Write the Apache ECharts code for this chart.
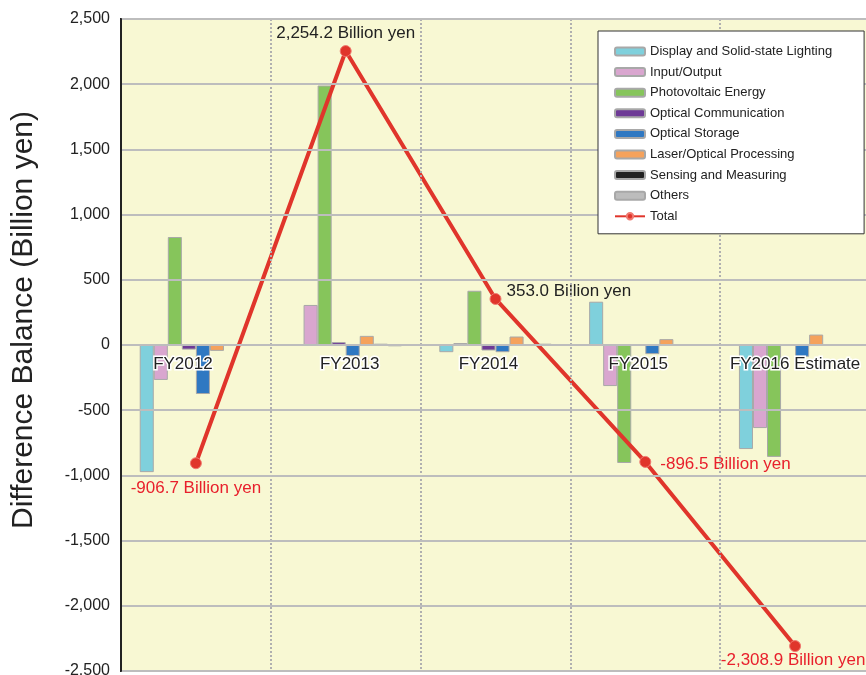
<!DOCTYPE html>
<html>
<head>
<meta charset="utf-8">
<script src="https://cdn.jsdelivr.net/npm/echarts@6/dist/echarts.min.js"></script>
<style>
  html, body { margin: 0; padding: 0; background: #fff; }
  #chart { width: 866px; height: 675px; }
</style>
</head>
<body>
<div id="chart"></div>
<script>
const categories = ["FY2012", "FY2013", "FY2014", "FY2015", "FY2016 Estimate"];
const seriesNames = [
  "Display and Solid-state Lighting",
  "Input/Output",
  "Photovoltaic Energy",
  "Optical Communication",
  "Optical Storage",
  "Laser/Optical Processing",
  "Sensing and Measuring",
  "Others"
];
// values in billion yen
const displayLighting = [-975, -5, -55, 332, -798];
const inputOutput = [-268, 307, 15, -315, -637];
const photovoltaic = [828, 1990, 416, -905, -858];
const opticalComm = [-35, 22, -42, 5, 0];
const opticalStorage = [-376, -85, -55, -70, -90];
const laserProcessing = [-45, 70, 65, 45, 80];
const sensingMeasuring = [-5, 10, 5, 5, 5];
const others = [-5, -10, 10, 5, 5];
const totals = [-906.7, 2254.2, 353.0, -896.5, -2308.9];
const yTicks = [-2500, -2000, -1500, -1000, -500, 0, 500, 1000, 1500, 2000, 2500];

const barValues = [displayLighting, inputOutput, photovoltaic, opticalComm,
  opticalStorage, laserProcessing, sensingMeasuring, others];
const barColors = ["#7fd0dc", "#d9a6cf", "#86c55b", "#6e3a96",
  "#2f78c2", "#f5a25c", "#222222", "#bcbcbc"];

// label placement for the total points
const totalLabelPos = ["bottom", "top", "right", "right", "bottom"];
const totalLabelColor = ["#e8202c", "#222", "#222", "#e8202c", "#e8202c"];
const totalLabelOffset = [[0, 2], [0, 6], [-4, -8], [0, 2], [-2, -9]];
// category labels sit a little left of centre in the original
const catLabelShift = [13, -4, 7, 7, 0];

const font = "'Liberation Sans', Arial, Helvetica, sans-serif";
const chart = echarts.init(document.getElementById("chart"));

const fmt = (v) => v.toLocaleString("en-US", { minimumFractionDigits: 1, maximumFractionDigits: 1 }) + " Billion yen";

const series = seriesNames.map((name, i) => ({
  name: name,
  type: "bar",
  data: barValues[i],
  barGap: 0,
  barCategoryGap: "25%",
  itemStyle: { color: barColors[i], borderColor: "#a8a8a8", borderWidth: 1 }
}));

series.push({
  name: "Total",
  type: "line",
  z: 5,
  data: totals.map((v, i) => ({
    value: v,
    label: {
      show: true,
      position: totalLabelPos[i],
      offset: totalLabelOffset[i],
      distance: 9,
      color: totalLabelColor[i],
      fontSize: 17,
      fontFamily: font,
      formatter: (p) => fmt(p.value)
    }
  })),
  symbol: "circle",
  symbolSize: 11,
  lineStyle: { color: "#e0352b", width: 4 },
  itemStyle: { color: "#e0352b", borderColor: "#f07a70", borderWidth: 1 }
});

const catData = categories.map((c, i) => {
  const s = catLabelShift[i];
  return {
    value: c,
    textStyle: { padding: s >= 0 ? [0, 2 * s, 0, 0] : [0, 0, 0, -2 * s] }
  };
});

chart.setOption({
  animation: false,
  textStyle: { fontFamily: font },
  grid: {
    left: 121, top: 19, right: -4, bottom: 4,
    outerBoundsMode: "none",
    containLabel: false,
    show: true, backgroundColor: "#f8f8d3", borderColor: "#222", borderWidth: 2
  },
  legend: {
    orient: "vertical",
    z: 30,
    left: 598, top: 31,
    padding: [13, 32, 10, 16],
    backgroundColor: "#fff",
    borderColor: "#333",
    borderWidth: 1,
    itemWidth: 30, itemHeight: 8,
    itemGap: 5.6,
    textStyle: { fontSize: 13, color: "#222", lineHeight: 15, fontFamily: font },
    data: seriesNames.concat(["Total"])
  },
  xAxis: {
    type: "category",
    data: catData,
    z: 10,
    position: "bottom",
    offset: -326,
    axisLine: { show: false, onZero: false },
    axisTick: { show: false },
    axisLabel: {
      interval: 0,
      margin: 11, fontSize: 17, color: "#222",
      textBorderColor: "#fff", textBorderWidth: 3, fontFamily: font
    },
    splitLine: { show: true, lineStyle: { color: "#b0b0b0", type: "dotted", width: 2 } }
  },
  yAxis: {
    type: "value",
    z: 12,
    min: yTicks[0], max: yTicks[yTicks.length - 1], interval: 500,
    name: "Difference Balance (Billion yen)",
    nameLocation: "middle",
    nameGap: 82,
    nameTextStyle: { fontSize: 30, color: "#222", fontFamily: font, padding: [0, 0, 0, 50] },
    axisLine: { show: true, lineStyle: { color: "#222", width: 2 } },
    axisTick: { show: false },
    axisLabel: {
      margin: 11, fontSize: 16, color: "#222", fontFamily: font,
      formatter: (v) => v.toLocaleString("en-US")
    },
    splitLine: { lineStyle: { color: "#bdbdbd", width: 2 } }
  },
  series: series
});
</script>
</body>
</html>
